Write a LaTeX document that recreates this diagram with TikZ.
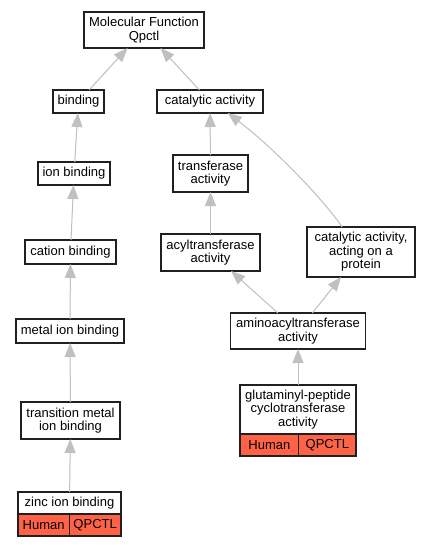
\documentclass[tikz,border=0pt]{standalone}
\usepackage{fontspec}
\setmainfont{Liberation Sans}
\usetikzlibrary{arrows.meta,calc}
\definecolor{edgegray}{HTML}{C0C0C0}
\definecolor{genered}{HTML}{FF6347}
\definecolor{boxline}{HTML}{202020}
\begin{document}
\begin{tikzpicture}[x=1pt,y=-1pt,
  box/.style={draw=boxline,line width=1.4pt,fill=white,inner sep=0pt,outer sep=0pt,align=center,font=\fontsize{13}{13.5}\selectfont},
  cell/.style={box,fill=genered},
  edge/.style={draw=edgegray,line width=1pt,-{Triangle[length=14pt,width=11pt,fill=edgegray]}}]
\fill[white] (0,0) rectangle (429,547);
\useasboundingbox (0,0) rectangle (429,547);
% nodes
\node[box,minimum width=120pt,minimum height=36pt] (mf) at (144,30) {Molecular Function\\Qpctl};
\node[box,minimum width=51pt,minimum height=23pt] (bind) at (78.5,101.5) {binding};
\node[box,minimum width=106pt,minimum height=23pt] (cat) at (210,101.5) {catalytic activity};
\node[box,minimum width=72pt,minimum height=23pt] (ion) at (74,173.5) {ion binding};
\node[box,minimum width=75pt,minimum height=37pt] (trans) at (210.5,173.5) {transferase\\activity};
\node[box,minimum width=91pt,minimum height=24pt] (cation) at (70.5,252) {cation binding};
\node[box,minimum width=99pt,minimum height=37pt] (acyl) at (210.5,252.5) {acyltransferase\\activity};
\node[box,minimum width=108pt,minimum height=50pt] (prot) at (361,252) {catalytic activity,\\acting on a\\protein};
\node[box,minimum width=108pt,minimum height=24pt] (metal) at (70,331) {metal ion binding};
\node[box,minimum width=135pt,minimum height=36pt] (amino) at (298,331) {aminoacyltransferase\\activity};
\node[box,minimum width=99pt,minimum height=37pt] (transm) at (70.5,420.5) {transition metal\\ion binding};
\node[box,minimum width=103pt,minimum height=22pt] (zinc) at (69.5,503) {zinc ion binding};
\node[cell,minimum width=51.3pt,minimum height=22pt] (zh) at (43.65,525) {Human};
\node[cell,minimum width=51.7pt,minimum height=22pt] (zq) at (95.15,525) {QPCTL};
\node[box,minimum width=116pt,minimum height=49pt] (glut) at (298,409.5) {glutaminyl-peptide\\cyclotransferase\\activity};
\node[cell,minimum width=58.7pt,minimum height=22pt] (gh) at (269.35,445) {Human};
\node[cell,minimum width=57.3pt,minimum height=22pt] (gq) at (327.35,445) {QPCTL};
% edges
\draw[edge] (bind) -- (mf);
\draw[edge] (cat) -- (mf);
\draw[edge] (ion) -- (bind);
\draw[edge] (trans) -- (cat);
\draw[edge] (cation) -- (ion);
\draw[edge] (acyl) -- (trans);
\draw[edge] (prot.127) .. controls (320,195) and (270,145) .. (cat.-33);
\draw[edge] (metal) -- (cation);
\draw[edge] (amino) -- (acyl);
\draw[edge] (amino) -- (prot);
\draw[edge] (transm) -- (metal);
\draw[edge] (glut) -- (amino);
\draw[edge] (zinc) -- (transm);
\end{tikzpicture}
\end{document}
